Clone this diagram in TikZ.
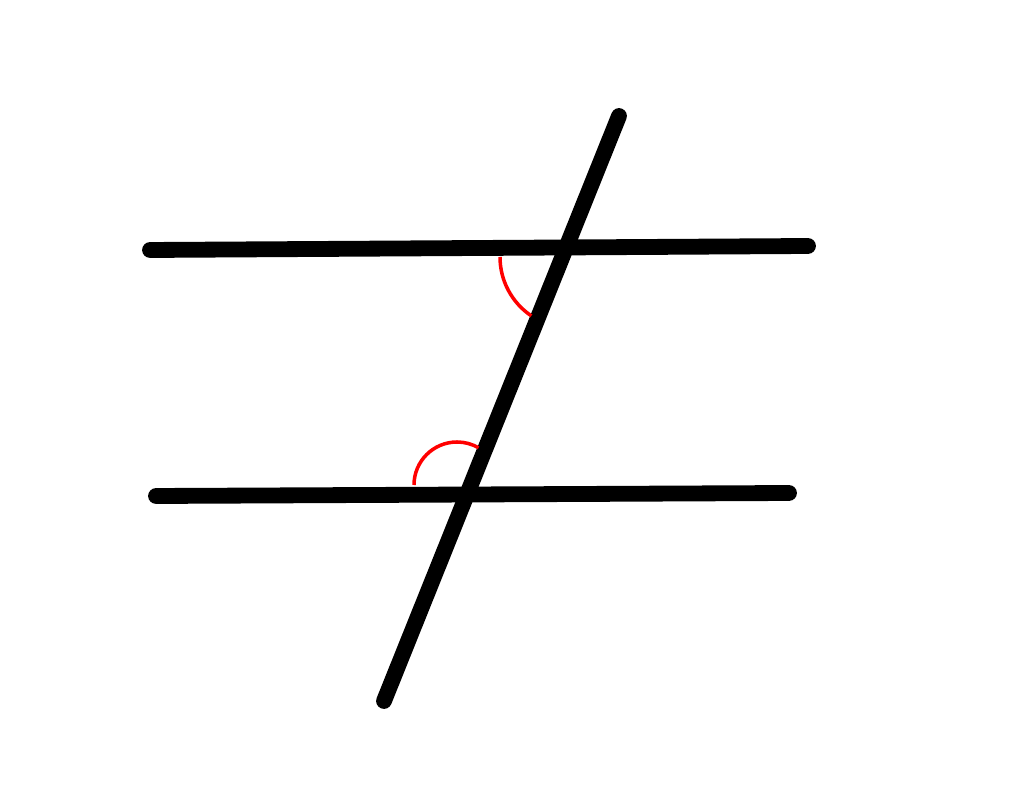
\documentclass[tikz,border=0pt]{standalone}
\usetikzlibrary{calc}

\begin{document}
\begin{tikzpicture}[
    x=0.02cm, y=0.02cm,
    heavyline/.style={line width=9pt, line cap=round, draw=black},
    anglearc/.style={line width=2pt, draw=red},
]
\useasboundingbox (0,0) rectangle (1024,794);

% ============ Lines ============
\coordinate (topL) at (150,544);
\coordinate (topR) at (808,548);
\coordinate (botL) at (156,298);
\coordinate (botR) at (789,301);
\coordinate (transT) at (619,678);
\coordinate (transB) at (384,93);

\draw[heavyline] (topL) -- (topR);
\draw[heavyline] (botL) -- (botR);
\draw[heavyline] (transT) -- (transB);

% ============ Angle arcs ============
\coordinate (arcTop) at (500,537);
\coordinate (arcBot) at (414,309);

\draw[anglearc] (arcTop) arc[start angle=180, end angle=236, radius=71];
\draw[anglearc] (arcBot) arc[start angle=180, end angle=60, radius=43];

\end{tikzpicture}
\end{document}
